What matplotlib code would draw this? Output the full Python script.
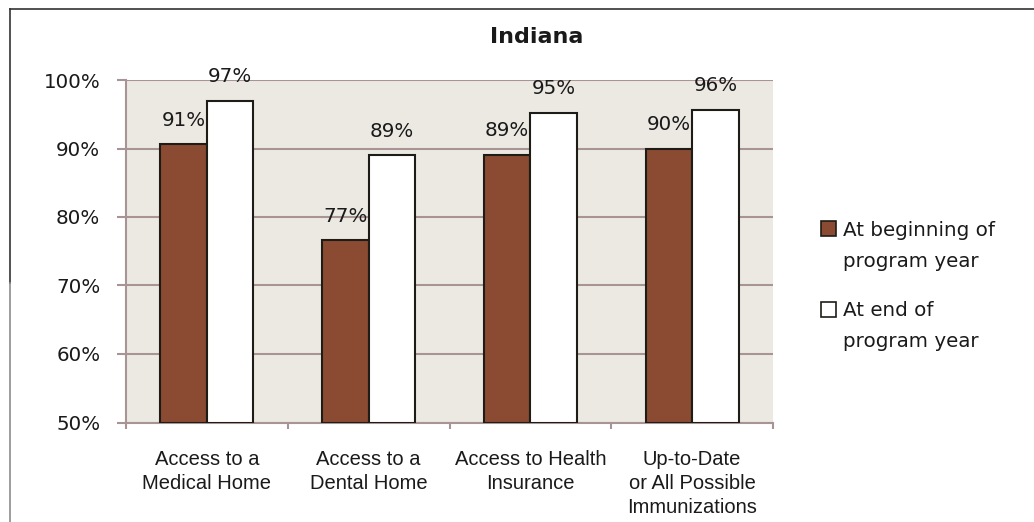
"""Indiana: share of children with access to care at start vs end of program year."""
import matplotlib
matplotlib.use("Agg")
import matplotlib.pyplot as plt
from matplotlib.lines import Line2D
from matplotlib.patches import Rectangle

W, H = 1034, 522

categories = [
    "Access to a\nMedical Home",
    "Access to a\nDental Home",
    "Access to Health\nInsurance",
    "Up-to-Date\nor All Possible\nImmunizations",
]
beginning = [90.6, 76.6, 89.1, 90.0]
end = [96.9, 89.0, 95.2, 95.6]
series_names = ["At beginning of\nprogram year", "At end of\nprogram year"]
yticks = [50, 60, 70, 80, 90, 100]

BROWN = "#8B4A32"
EDGE = "#1E1C16"
BG = "#ECE9E3"
GRID = "#A89494"
TXT = "#1A1A1A"
CAL = "DejaVu Sans"
ARIAL = "Liberation Sans"
FS = 14.3


def px(x, y):
    # image pixel -> figure fraction
    return x / W, 1 - y / H


fig = plt.figure(figsize=(W / 100, H / 100), dpi=100)
ax = fig.add_axes([126 / W, (H - 422.5) / H, (773 - 126) / W, 342.5 / H])
ax.set_facecolor(BG)

n = len(categories)
xs = list(range(n))
bw = 0.2875
b1 = ax.bar([x - bw / 2 for x in xs], [v - 50 for v in beginning], bw, bottom=50,
            color=BROWN, edgecolor=EDGE, linewidth=1.5, zorder=3)
b2 = ax.bar([x + bw / 2 for x in xs], [v - 50 for v in end], bw, bottom=50,
            color="white", edgecolor=EDGE, linewidth=1.5, zorder=3)

for bars, vals in ((b1, beginning), (b2, end)):
    for rect, v in zip(bars, vals):
        ax.annotate(f"{v:.0f}%", (rect.get_x() + rect.get_width() / 2, v),
                    xytext=(0, 13.5), textcoords="offset points",
                    ha="center", va="baseline", fontsize=FS, family=CAL,
                    color=TXT, zorder=4)

ax.set_xlim(-0.5, n - 0.5)
ax.set_ylim(50, 100)
ax.set_yticks(yticks)
ax.set_yticklabels([f"{t}%" for t in yticks], fontsize=FS, family=CAL, color=TXT)
ax.yaxis.grid(True, color=GRID, linewidth=1.5, zorder=1)
ax.set_axisbelow(True)

ax.set_xticks(xs)
ax.set_xticklabels(categories, fontsize=14.5, family=ARIAL, color=TXT, linespacing=1.33)
ax.set_xticks([x - 0.5 for x in range(n + 1)], minor=True)
ax.tick_params(axis="x", which="major", length=0, pad=20)
ax.tick_params(axis="x", which="minor", length=4.5, width=1.5, color=GRID, direction="out")
ax.tick_params(axis="y", length=6.5, width=1.5, color=GRID, direction="out", pad=12)

for s in ("top", "right"):
    ax.spines[s].set_visible(False)
for s in ("left", "bottom"):
    ax.spines[s].set_color(GRID)
    ax.spines[s].set_linewidth(1.5)

# title
fig.text(*px(537, 37), "Indiana", ha="center", va="center", fontsize=16,
         fontweight="bold", family=CAL, color=TXT)

# legend, drawn by hand to keep Excel's layout
swatches = [BROWN, "white"]
sq_top = [221, 302]
baselines = [(236, 266.7), (316, 346.7)]
for col, top, name, (l1, l2) in zip(swatches, sq_top, series_names, baselines):
    x0, y0 = px(821, top + 15)
    fig.add_artist(Rectangle((x0, y0), 15 / W, 15 / H, transform=fig.transFigure,
                             facecolor=col, edgecolor=EDGE, linewidth=1.2))
    first, second = name.split("\n")
    fig.text(*px(843, l1), first, ha="left", va="baseline", fontsize=FS, family=CAL, color=TXT)
    fig.text(*px(843, l2), second, ha="left", va="baseline", fontsize=FS, family=CAL, color=TXT)

# chart frame (only top and left edges are in view)
fig.add_artist(Line2D([10 / W, 1], [1 - 9 / H] * 2, transform=fig.transFigure,
                      color="#333333", linewidth=1.2))
fig.add_artist(Line2D([10 / W] * 2, [1 - 9 / H, 1 - 283 / H], transform=fig.transFigure,
                      color="#333333", linewidth=1.2))
fig.add_artist(Line2D([10 / W] * 2, [1 - 283 / H, 0], transform=fig.transFigure,
                      color="#8C8C8C", linewidth=1.2))

fig.savefig("out.png", dpi=100)
